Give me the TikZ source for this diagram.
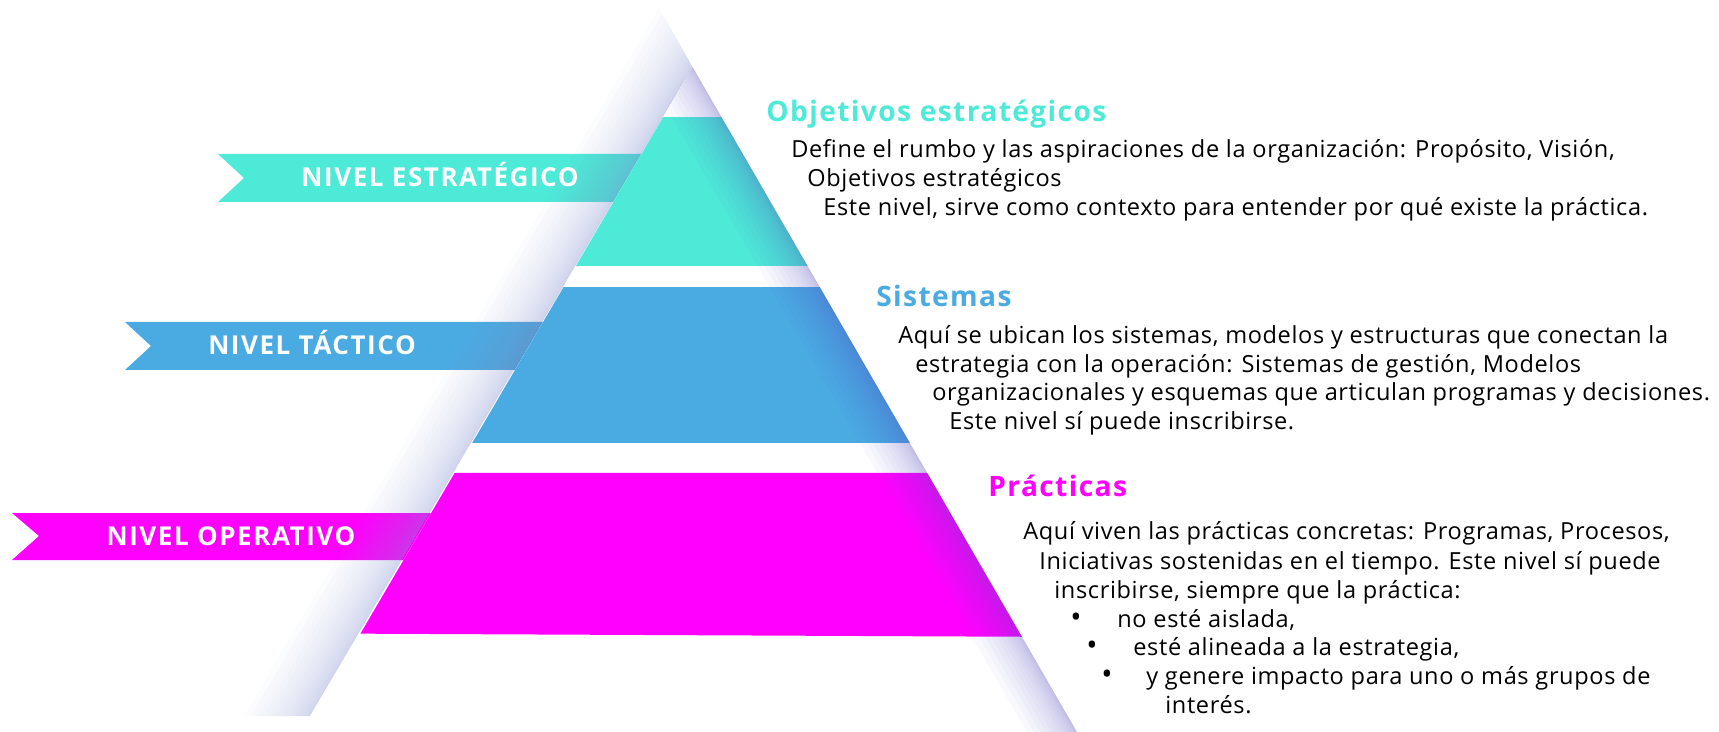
\documentclass[tikz,border=0pt]{standalone}
\usepackage{fontspec}
\setmainfont{Open Sans}
\newfontfamily\bodyfont[LetterSpace=2.7]{Open Sans}
\newfontfamily\headfont[LetterSpace=5]{Open Sans}
\newfontfamily\lblfont[LetterSpace=6]{Open Sans}
\usepackage{tikz}
\definecolor{tealc}{RGB}{77,234,216}
\definecolor{bluec}{RGB}{74,170,226}
\definecolor{magc}{RGB}{255,0,255}
\definecolor{shadowc}{RGB}{140,150,210}
\definecolor{innerc}{RGB}{100,90,200}

\begin{document}
\begin{tikzpicture}[x=0.02cm, y=-0.02cm,
    lbl/.style={anchor=base, text=white, inner sep=0pt, font=\lblfont\bfseries\fontsize{14.8}{16}\selectfont},
    head/.style={anchor=base west, inner sep=0pt, font=\headfont\bfseries\fontsize{16}{18}\selectfont},
    txt/.style={anchor=base west, inner sep=0pt, font=\bodyfont\fontsize{13.4}{15}\selectfont},
    dot/.style={anchor=base, inner sep=0pt, font=\fontsize{17}{18}\selectfont}
]
\useasboundingbox (0,0) rectangle (1719,732);

% ribbons
\fill[tealc] (218,154) -- (680,154) -- (680,202) -- (218,202) -- (244,178) -- cycle;
\fill[bluec] (125,322) -- (600,322) -- (600,370) -- (125,370) -- (151,346) -- cycle;
\fill[magc] (12,513) -- (480,513) -- (480,560) -- (12,560) -- (39,536) -- cycle;

% shadow left of the pyramid
\begin{scope}
\clip (659,8) -- (692.5,67) -- (309.8,716) -- (240.7,716) -- cycle;
\foreach \k [evaluate=\k as \w using 68*(\k/20)^2] in {1,...,20}
  \fill[shadowc, fill opacity=0.03] (731.8,0) -- (298.1,740) -- ++(-\w,0) -- (731.8-\w,0) -- cycle;
\end{scope}

% pyramid
\fill[white] (692.5,67) -- (1081.5,740) -- (298.1,740) -- cycle;
\begin{scope}
\clip (692.5,67) -- (1081.5,740) -- (298.1,740) -- cycle;
\fill[tealc] (0,117) rectangle (1719,266);
\fill[bluec] (0,287) rectangle (1719,443);
\fill[magc] (0,473) -- (1719,473) -- (1719,640) -- (0,632) -- cycle;
% shade along the right edge
\foreach \k [evaluate=\k as \w using 50*(\k/14)^2] in {1,...,14}
  \fill[innerc, fill opacity=0.035] (655.8,0) -- (1083.5,740) -- ++(-2-\w,0) -- (653.8-\w,0) -- cycle;
\end{scope}

% level labels
\node[lbl] (estrategico) at (440,187) {NIVEL ESTRATÉGICO};
\node[lbl] (tactico) at (312,355) {NIVEL TÁCTICO};
\node[lbl] (operativo) at (231,545) {NIVEL OPERATIVO};

% objetivos
\node[head, text=tealc] (objetivos) at (766,122) {Objetivos estratégicos};
\node[txt] (obj1) at (791,158) {Define el rumbo y las aspiraciones de la organización: Propósito, Visión,};
\node[txt] (obj2) at (807,187) {Objetivos estratégicos};
\node[txt] (obj3) at (823,216) {Este nivel, sirve como contexto para entender por qué existe la práctica.};

% sistemas
\node[head, text=bluec] (sistemas) at (876,307) {Sistemas};
\node[txt] (sis1) at (898,344) {Aquí se ubican los sistemas, modelos y estructuras que conectan la};
\node[txt] (sis2) at (915,373) {estrategia con la operación: Sistemas de gestión, Modelos};
\node[txt] (sis3) at (932,401) {organizacionales y esquemas que articulan programas y decisiones.};
\node[txt] (sis4) at (949,430) {Este nivel sí puede inscribirse.};

% practicas
\node[head, text=magc] (practicas) at (988,497) {Prácticas};
\node[txt] (pra1) at (1023,540) {Aquí viven las prácticas concretas: Programas, Procesos,};
\node[txt] (pra2) at (1039,569) {Iniciativas sostenidas en el tiempo. Este nivel sí puede};
\node[txt] (pra3) at (1054,598) {inscribirse, siempre que la práctica:};
\node[dot] (dot1) at (1076,627) {•};
\node[txt] (pra4) at (1117,627) {no esté aislada,};
\node[dot] (dot2) at (1092,655) {•};
\node[txt] (pra5) at (1133,655) {esté alineada a la estrategia,};
\node[dot] (dot3) at (1107,684) {•};
\node[txt] (pra6) at (1146,684) {y genere impacto para uno o más grupos de};
\node[txt] (pra7) at (1165,713) {interés.};

\end{tikzpicture}
\end{document}
